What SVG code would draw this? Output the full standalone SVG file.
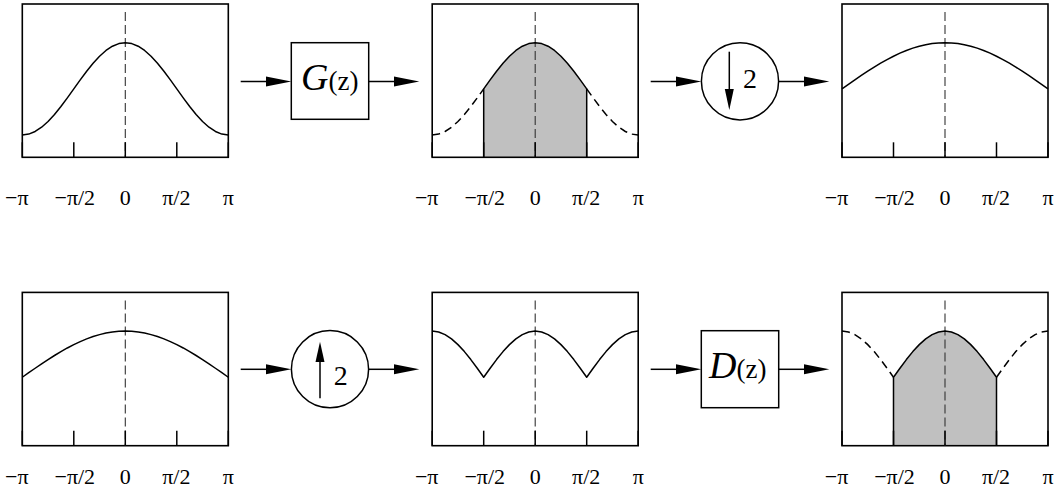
<svg xmlns="http://www.w3.org/2000/svg" xmlns:xlink="http://www.w3.org/1999/xlink" width="1058" height="501" viewBox="0 0 1058 501">
<style>
.box{fill:none;stroke:#000;stroke-width:1.6}
.tick{stroke:#000;stroke-width:1.5}
.axis{stroke:#333;stroke-width:1.1;stroke-dasharray:9,4}
.curve{fill:none;stroke:#000;stroke-width:1.5;stroke-linejoin:round}
.dcurve{fill:none;stroke:#000;stroke-width:1.5;stroke-dasharray:8,5}
.shade{fill:#c0c0c0;stroke:none}
.lbl{font-family:"Liberation Serif","Times New Roman",serif;font-size:22px;fill:#000;text-anchor:middle}
.blk{fill:#fff;stroke:#000;stroke-width:1.5}
.num{font-family:"Liberation Serif","Times New Roman",serif;font-size:28px;fill:#000;text-anchor:middle}
.fn{font-family:"Liberation Serif","Times New Roman",serif;fill:#000}
.ln{stroke:#000;stroke-width:1.5}
</style>
<defs>
<g id="frame">
<rect class="box" x="-103" y="-131" width="206" height="153.3"/>
<line class="axis" x1="0" y1="-123" x2="0" y2="22.3"/>
<line class="tick" x1="-103" y1="7.3" x2="-103" y2="22.3"/>
<line class="tick" x1="-51.5" y1="7.3" x2="-51.5" y2="22.3"/>
<line class="tick" x1="0" y1="7.3" x2="0" y2="22.3"/>
<line class="tick" x1="51.5" y1="7.3" x2="51.5" y2="22.3"/>
<line class="tick" x1="103" y1="7.3" x2="103" y2="22.3"/>
</g>
</defs>

<g id="panel1" transform="translate(125.3,135)">
<use xlink:href="#frame"/>
<path class="curve" d="M-103,0 L-96.56,-0.89 -90.13,-3.51 -83.69,-7.78 -77.25,-13.52 -70.81,-20.51 -64.38,-28.49 -57.94,-37.15 -51.5,-46.15 -45.06,-55.15 -38.63,-63.81 -32.19,-71.79 -25.75,-78.78 -19.31,-84.52 -12.88,-88.79 -6.44,-91.41 0,-92.3 6.44,-91.41 12.88,-88.79 19.31,-84.52 25.75,-78.78 32.19,-71.79 38.63,-63.81 45.06,-55.15 51.5,-46.15 57.94,-37.15 64.38,-28.49 70.81,-20.51 77.25,-13.52 83.69,-7.78 90.13,-3.51 96.56,-0.89 103,0"/>
<g class="lbl"><text x="-108.5" y="70">−π</text><text x="-50.5" y="70">−π/2</text><text x="0" y="70">0</text><text x="51" y="70">π/2</text><text x="103" y="70">π</text></g>
</g>

<g id="panel2" transform="translate(535.2,135)">
<path class="shade" d="M-51.5,22.3 L-51.5,-46.15 -45.06,-55.15 -38.63,-63.81 -32.19,-71.79 -25.75,-78.78 -19.31,-84.52 -12.88,-88.79 -6.44,-91.41 0,-92.3 6.44,-91.41 12.88,-88.79 19.31,-84.52 25.75,-78.78 32.19,-71.79 38.63,-63.81 45.06,-55.15 51.5,-46.15 51.5,22.3 Z"/>
<use xlink:href="#frame"/>
<path class="dcurve" d="M-103,0 L-96.56,-0.89 -90.13,-3.51 -83.69,-7.78 -77.25,-13.52 -70.81,-20.51 -64.38,-28.49 -57.94,-37.15 -51.5,-46.15"/>
<path class="curve" d="M-51.5,22.3 L-51.5,-46.15 -45.06,-55.15 -38.63,-63.81 -32.19,-71.79 -25.75,-78.78 -19.31,-84.52 -12.88,-88.79 -6.44,-91.41 0,-92.3 6.44,-91.41 12.88,-88.79 19.31,-84.52 25.75,-78.78 32.19,-71.79 38.63,-63.81 45.06,-55.15 51.5,-46.15 51.5,22.3"/>
<path class="dcurve" d="M51.5,-46.15 L57.94,-37.15 64.38,-28.49 70.81,-20.51 77.25,-13.52 83.69,-7.78 90.13,-3.51 96.56,-0.89 103,0"/>
<g class="lbl"><text x="-108.5" y="70">−π</text><text x="-50.5" y="70">−π/2</text><text x="0" y="70">0</text><text x="51" y="70">π/2</text><text x="103" y="70">π</text></g>
</g>

<g id="panel3" transform="translate(945,135)">
<use xlink:href="#frame"/>
<path class="curve" d="M-103,-46.15 L-96.56,-50.67 -90.13,-55.15 -83.69,-59.55 -77.25,-63.81 -70.81,-67.9 -64.38,-71.79 -57.94,-75.43 -51.5,-78.78 -45.06,-81.82 -38.63,-84.52 -32.19,-86.85 -25.75,-88.79 -19.31,-90.31 -12.88,-91.41 -6.44,-92.08 0,-92.3 6.44,-92.08 12.88,-91.41 19.31,-90.31 25.75,-88.79 32.19,-86.85 38.63,-84.52 45.06,-81.82 51.5,-78.78 57.94,-75.43 64.38,-71.79 70.81,-67.9 77.25,-63.81 83.69,-59.55 90.13,-55.15 96.56,-50.67 103,-46.15"/>
<g class="lbl"><text x="-108.5" y="70">−π</text><text x="-50.5" y="70">−π/2</text><text x="0" y="70">0</text><text x="51" y="70">π/2</text><text x="103" y="70">π</text></g>
</g>

<g id="panel4" transform="translate(125.3,423.4)">
<use xlink:href="#frame"/>
<path class="curve" d="M-103,-46.15 L-96.56,-50.67 -90.13,-55.15 -83.69,-59.55 -77.25,-63.81 -70.81,-67.9 -64.38,-71.79 -57.94,-75.43 -51.5,-78.78 -45.06,-81.82 -38.63,-84.52 -32.19,-86.85 -25.75,-88.79 -19.31,-90.31 -12.88,-91.41 -6.44,-92.08 0,-92.3 6.44,-92.08 12.88,-91.41 19.31,-90.31 25.75,-88.79 32.19,-86.85 38.63,-84.52 45.06,-81.82 51.5,-78.78 57.94,-75.43 64.38,-71.79 70.81,-67.9 77.25,-63.81 83.69,-59.55 90.13,-55.15 96.56,-50.67 103,-46.15"/>
<g class="lbl"><text x="-108.5" y="60.5">−π</text><text x="-50.5" y="60.5">−π/2</text><text x="0" y="60.5">0</text><text x="51" y="60.5">π/2</text><text x="103" y="60.5">π</text></g>
</g>

<g id="panel5" transform="translate(535.2,423.4)">
<use xlink:href="#frame"/>
<path class="curve" d="M-103,-92.3 L-96.56,-91.41 -90.13,-88.79 -83.69,-84.52 -77.25,-78.78 -70.81,-71.79 -64.38,-63.81 -57.94,-55.15 -51.5,-46.15 -45.06,-55.15 -38.63,-63.81 -32.19,-71.79 -25.75,-78.78 -19.31,-84.52 -12.88,-88.79 -6.44,-91.41 0,-92.3 6.44,-91.41 12.88,-88.79 19.31,-84.52 25.75,-78.78 32.19,-71.79 38.63,-63.81 45.06,-55.15 51.5,-46.15 57.94,-55.15 64.38,-63.81 70.81,-71.79 77.25,-78.78 83.69,-84.52 90.13,-88.79 96.56,-91.41 103,-92.3"/>
<g class="lbl"><text x="-108.5" y="60.5">−π</text><text x="-50.5" y="60.5">−π/2</text><text x="0" y="60.5">0</text><text x="51" y="60.5">π/2</text><text x="103" y="60.5">π</text></g>
</g>

<g id="panel6" transform="translate(945,423.4)">
<path class="shade" d="M-51.5,22.3 L-51.5,-46.15 -45.06,-55.15 -38.63,-63.81 -32.19,-71.79 -25.75,-78.78 -19.31,-84.52 -12.88,-88.79 -6.44,-91.41 0,-92.3 6.44,-91.41 12.88,-88.79 19.31,-84.52 25.75,-78.78 32.19,-71.79 38.63,-63.81 45.06,-55.15 51.5,-46.15 51.5,22.3 Z"/>
<use xlink:href="#frame"/>
<path class="dcurve" d="M-103,-92.3 L-96.56,-91.41 -90.13,-88.79 -83.69,-84.52 -77.25,-78.78 -70.81,-71.79 -64.38,-63.81 -57.94,-55.15 -51.5,-46.15"/>
<path class="curve" d="M-51.5,22.3 L-51.5,-46.15 -45.06,-55.15 -38.63,-63.81 -32.19,-71.79 -25.75,-78.78 -19.31,-84.52 -12.88,-88.79 -6.44,-91.41 0,-92.3 6.44,-91.41 12.88,-88.79 19.31,-84.52 25.75,-78.78 32.19,-71.79 38.63,-63.81 45.06,-55.15 51.5,-46.15 51.5,22.3"/>
<path class="dcurve" d="M51.5,-46.15 L57.94,-55.15 64.38,-63.81 70.81,-71.79 77.25,-78.78 83.69,-84.52 90.13,-88.79 96.56,-91.41 103,-92.3"/>
<g class="lbl"><text x="-108.5" y="60.5">−π</text><text x="-50.5" y="60.5">−π/2</text><text x="0" y="60.5">0</text><text x="51" y="60.5">π/2</text><text x="103" y="60.5">π</text></g>
</g>

<g id="G">
<rect class="blk" x="291.3" y="42.7" width="77.4" height="76.6"/>
<text class="fn" x="301" y="90"><tspan font-style="italic" font-size="38">G</tspan><tspan font-size="27">(z)</tspan></text>
</g>

<g id="down2">
<circle class="blk" cx="740" cy="81.3" r="38.6"/>
<line class="ln" x1="729.3" y1="51.7" x2="729.3" y2="92"/>
<polygon points="729.3,110 724.8,89 733.8,89" fill="#000"/>
<text class="num" x="750" y="87.7">2</text>
</g>

<g id="up2">
<circle class="blk" cx="330" cy="369.2" r="38.6"/>
<line class="ln" x1="320" y1="398.3" x2="320" y2="360"/>
<polygon points="320,341.7 315.5,362 324.5,362" fill="#000"/>
<text class="num" x="340.7" y="385.3">2</text>
</g>

<g id="D">
<rect class="blk" x="701.3" y="330.7" width="77.4" height="77"/>
<text class="fn" x="709" y="378.3"><tspan font-style="italic" font-size="38">D</tspan><tspan font-size="27">(z)</tspan></text>
</g>

<g id="connectors">
<line class="ln" x1="240.7" y1="81.5" x2="270" y2="81.5"/>
<polygon points="291.3,81.5 266,76.5 266,86.5"/>
<line class="ln" x1="368.7" y1="81.5" x2="398" y2="81.5"/>
<polygon points="419.3,81.5 394,76.5 394,86.5"/>
<line class="ln" x1="650.7" y1="81.5" x2="680" y2="81.5"/>
<polygon points="701.3,81.5 676,76.5 676,86.5"/>
<line class="ln" x1="778.7" y1="81.5" x2="808" y2="81.5"/>
<polygon points="829.3,81.5 804,76.5 804,86.5"/>
<line class="ln" x1="240.7" y1="369.3" x2="270" y2="369.3"/>
<polygon points="291.3,369.3 266,364.3 266,374.3"/>
<line class="ln" x1="368.7" y1="369.3" x2="398" y2="369.3"/>
<polygon points="419.3,369.3 394,364.3 394,374.3"/>
<line class="ln" x1="650.7" y1="369.3" x2="680" y2="369.3"/>
<polygon points="701.3,369.3 676,364.3 676,374.3"/>
<line class="ln" x1="778.7" y1="369.3" x2="808" y2="369.3"/>
<polygon points="829.3,369.3 804,364.3 804,374.3"/>
</g>
</svg>
